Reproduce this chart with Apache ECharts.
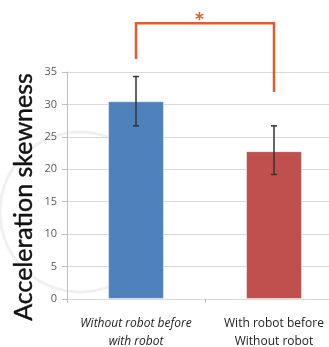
<!DOCTYPE html>
<html><head><meta charset="utf-8">
<script src="https://cdn.jsdelivr.net/npm/echarts@6/dist/echarts.min.js"></script>
<style>html,body{margin:0;padding:0;background:#fff}#c{width:329px;height:347px}</style>
</head><body><div id="c"></div>
<script>
const categories = ['Without robot before\nwith robot', 'With robot before\nWithout robot'];
const means = [30.5, 22.8];
const errLow = [26.7, 19.2];
const errHigh = [34.3, 26.7];
const barColors = ['#4F81BD', '#C0504D'];
const yTicks = {min: 0, max: 35, interval: 5};
const yTitle = 'Acceleration skewness';
// significance bracket (data units)
const bracketTop = 42.5;
const bracketEnds = [37.0, 31.9];
const starValue = 43.0;
const starPos = 0.46; // fraction along the bracket
const orange = '#E85A2A';

const chart = echarts.init(document.getElementById('c'), null, {renderer: 'canvas'});
chart.setOption({
  animation: false,
  backgroundColor: '#fff',
  grid: {left: 67, top: 72, width: 276, height: 227, containLabel: false, outerBoundsMode: 'none'},
  xAxis: {
    type: 'category', data: categories,
    axisLine: {lineStyle: {color: '#D9D9D9'}},
    axisTick: {show: true, length: 4, lineStyle: {color: '#BFBFBF'}},
    axisLabel: {
      margin: 16, lineHeight: 18, fontSize: 12, color: '#222', fontFamily: 'Open Sans',
      interval: 0, hideOverlap: false,
      formatter: function (v, i) { return i === 0 ? '{i|' + v.replace('\n', '}\n{i|') + '}' : v; },
      rich: {i: {fontStyle: 'italic', fontSize: 12, color: '#222', fontFamily: 'Open Sans', lineHeight: 18}}
    }
  },
  yAxis: {
    type: 'value', min: yTicks.min, max: yTicks.max, interval: yTicks.interval,
    axisLine: {show: true, lineStyle: {color: '#BFBFBF'}},
    axisTick: {show: true, length: 5, lineStyle: {color: '#BFBFBF'}},
    splitLine: {lineStyle: {color: '#D9D9D9', width: 1}},
    axisLabel: {fontSize: 11, color: '#595959', margin: 10, fontFamily: 'Open Sans'}
  },
  graphic: [
    {type: 'circle', shape: {cx: 80, cy: 212, r: 80}, style: {fill: 'none', stroke: '#F0F0F0', lineWidth: 3}, z: -10, silent: true},
    {type: 'text', x: 24, y: 197, rotation: Math.PI / 2,
     style: {text: yTitle, fontSize: 25, fontFamily: 'Lato', fill: '#111', align: 'center', verticalAlign: 'middle', stroke: '#111', lineWidth: 0.4}}
  ],
  series: [
    {
      type: 'bar', barWidth: 56,
      data: means.map((v, i) => ({value: v, itemStyle: {color: barColors[i], borderColor: 'rgba(255,255,255,0.5)', borderWidth: 1}})),
      z: 2
    },
    {
      type: 'custom', z: 5,
      data: means.map((v, i) => [i, errLow[i], errHigh[i]]),
      renderItem: function (params, api) {
        const lo = api.coord([api.value(0), api.value(1)]);
        const hi = api.coord([api.value(0), api.value(2)]);
        const w = 3;
        const st = {stroke: '#333', lineWidth: 1.5};
        return {type: 'group', children: [
          {type: 'line', shape: {x1: hi[0], y1: hi[1], x2: lo[0], y2: lo[1]}, style: st},
          {type: 'line', shape: {x1: hi[0] - w, y1: hi[1], x2: hi[0] + w, y2: hi[1]}, style: st},
          {type: 'line', shape: {x1: lo[0] - w, y1: lo[1], x2: lo[0] + w, y2: lo[1]}, style: st}
        ]};
      }
    },
    {
      type: 'custom', z: 6, clip: false,
      data: [[0, 1]],
      renderItem: function (params, api) {
        const a = api.coord([0, bracketEnds[0]]);
        const b = api.coord([1, bracketEnds[1]]);
        const ta = api.coord([0, bracketTop]);
        const tb = api.coord([1, bracketTop]);
        const s = api.coord([0, starValue]);
        const s2 = api.coord([1, starValue]);
        return {type: 'group', children: [
          {type: 'polyline', shape: {points: [a, ta, tb, b]}, style: {stroke: orange, lineWidth: 2.5, fill: 'none'}},
          {type: 'text', x: s[0] + (s2[0] - s[0]) * starPos, y: s[1], style: {text: '*', fill: orange, fontSize: 17, fontWeight: 'bold', fontFamily: 'DejaVu Sans', align: 'center', verticalAlign: 'middle'}}
        ]};
      }
    }
  ]
});
</script></body></html>
